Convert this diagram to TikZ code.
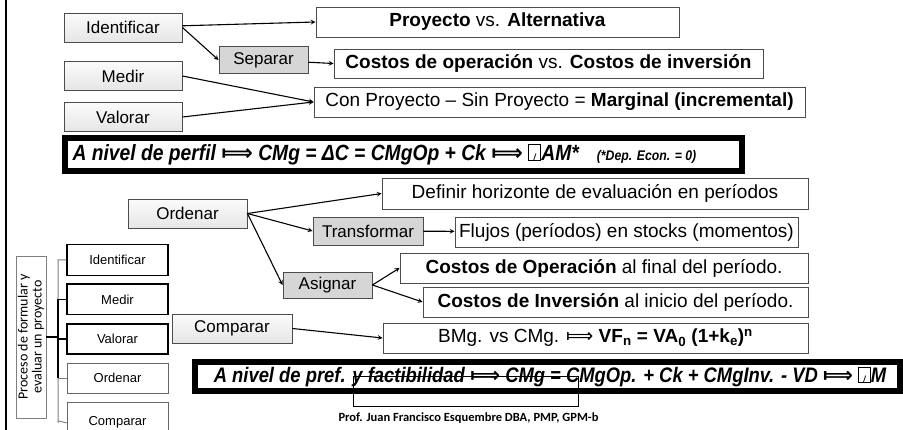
\documentclass[tikz,border=0pt]{standalone}
\usepackage{fontspec}
\setmainfont{Liberation Sans}
\newfontfamily\calibri{Carlito}
\newfontfamily\symfont{DejaVu Sans}
\newfontfamily\formfont[FakeStretch=0.876]{Liberation Sans}
\usetikzlibrary{arrows}
\usetikzlibrary{positioning}
\tikzset{basic/.style={draw=black!70,line width=0.9pt,inner sep=0pt}}
\tikzset{verb/.style={basic,top color=gray!3,bottom color=gray!20,minimum width=118pt,minimum height=29pt,font=\fontsize{17}{20}\selectfont}}
\tikzset{subverb/.style={basic,fill=gray!32,minimum height=27pt,font=\fontsize{17}{20}\selectfont}}
\tikzset{result/.style={basic,fill=white,minimum height=30pt,font=\fontsize{19}{22}\selectfont}}
\tikzset{phase/.style={draw,minimum width=101pt,minimum height=30.5pt,font=\fontsize{13}{15}\selectfont}}
\newcommand{\imp}{{\symfont ⟾}}
\newcommand{\tofu}{{\setlength{\fboxsep}{0pt}\setlength{\fboxrule}{1.1pt}\fbox{\makebox[0.5em]{\raisebox{0pt}[0.68em][0pt]{\fontsize{9}{9}\selectfont /}}}}}

\begin{document}
\begin{tikzpicture}[
		x = 1pt, y = -1pt, % pixel grid
		> = stealth, % arrow head style
		line width = 1.1pt,
		formbox/.style = {draw=black, line width=6pt, fill=white, inner sep=0pt},
		formtext/.style = {inner sep=0pt, anchor=west, font=\formfont\bfseries\itshape\fontsize{22}{24}\selectfont},
		node distance = 7.5pt
		]
		\useasboundingbox (0,0) rectangle (903,430);
		\clip (0,0) rectangle (903,430);
		
		% Top: identificar, medir, valorar
		\node[verb] (id) at (123,27.5) {Identificar};
		\node[verb] (med) at (123,76) {Medir};
		\node[verb] (val) at (123,117) {Valorar};
		\node[subverb, minimum width=89pt] (sep) at (263.5,60) {Separar};
		\node[result, minimum width=363pt] (proy) at (497.5,22) {\textbf{Proyecto} vs. \textbf{Alternativa}};
		\node[result, minimum width=429pt, minimum height=29pt] (costop) at (548.5,63.5) {\textbf{Costos de operación} vs. \textbf{Costos de inversión}};
		\node[result, minimum width=491pt] (conp) at (559.5,102) {Con Proyecto -- Sin Proyecto = \textbf{Marginal (incremental)}};
		
		\path[->] (id) edge (proy.west);
		\path[->] (id.east) edge (sep.west);
		\path[->] (sep) edge (costop.west);
		\path[->] (med.east) edge (conp.west);
		\path[->] (val.east) edge (conp.west);
		
		% Perfil
		\node[formbox, minimum width=677pt, minimum height=33pt] (perfil) at (403.5,154.5) {};
		\node[formtext] (perfiltxt) at ([xshift=10pt]perfil.west) {A nivel de perfil \imp{} CMg = ΔC = CMgOp + Ck \imp{} \tofu AM*\hspace{18pt}{\fontsize{14}{15}\selectfont (*Dep. Econ. = 0)}};
		
		% Middle: ordenar, comparar
		\node[verb, minimum width=119pt] (ord) at (187.5,213.5) {Ordenar};
		\node[result, minimum width=426pt, minimum height=31pt] (defi) at (595,193.5) {Definir horizonte de evaluación en períodos};
		\node[subverb, minimum width=110pt, minimum height=28pt] (trans) at (368,231) {Transformar};
		\node[result, minimum width=343pt] (flu) at (626.5,232) {Flujos (períodos) en stocks (momentos)};
		\node[subverb, minimum width=89pt, minimum height=26pt] (asig) at (327.5,285) {Asignar};
		\node[result, minimum width=408pt] (cop) at (604,268) {\textbf{Costos de Operación} al final del período.};
		\node[result, minimum width=385pt] (cinv) at (615.5,302) {\textbf{Costos de Inversión} al inicio del período.};
		\node[verb, minimum width=120pt] (comp) at (232,328.5) {Comparar};
		\node[result, minimum width=425pt] (bmg) at (595.5,338) {BMg. vs CMg. \imp{} \textbf{VF\textsubscript{n} = VA\textsubscript{0} (1+k\textsubscript{e})\textsuperscript{n}}};
		
		\path[->] (ord.east) edge (defi.west);
		\path[->] (ord.east) edge (trans.west);
		\path[->] (ord.east) edge (asig.west);
		\path[->] (trans) edge (flu);
		\path[->] (asig.east) edge (cop.west);
		\path[->] (asig.east) edge (cinv.west);
		\path[->] (comp.east) edge (bmg.west);
		
		% Factibilidad
		\node[formbox, line width=5.5pt, minimum width=705pt, minimum height=29pt] (factib) at (547.5,376.5) {};
		\node[formtext, font=\formfont\bfseries\itshape\fontsize{21}{24}\selectfont] (factibtxt) at ([xshift=21pt]factib.west) {A nivel de pref. y factibilidad \imp{} CMg = CMgOp. + Ck + CMgInv. - VD \imp{} \tofu M};
		\node[draw, line width=1pt, minimum width=225pt, minimum height=30pt] (blank) at (465.5,392) {};
		
		% Left: proceso
		\node[draw=gray, line width=0.8pt, rotate=90, minimum width=162pt, minimum height=30pt, inner sep=1pt, align=center, font=\calibri\fontsize{14}{14}\selectfont] (proc) at (31,337) {Proceso de formular y\\evaluar un proyecto};
		\node[phase, line width=1.4pt] (subid) at (117.5,260) {Identificar};
		\node[phase, line width=1.4pt, below=of subid] (submed) {Medir};
		\node[phase, line width=1.8pt, below=of submed] (subval) {Valorar};
		\node[phase, draw=gray!80!black, line width=0.8pt, below=of subval] (subord) {Ordenar};
		\node[phase, draw=gray!80!black, line width=0.8pt, minimum height=40pt, below=8.5pt of subord] (subcomp) {\raisebox{4pt}{Comparar}};
		
		\coordinate (spine) at (58,0);
		\draw[gray, line width=1pt] (subid.west) -- (subid.west -| spine) -- (subcomp.west -| spine) -- ++(0,-2) -- (subcomp.west);
		\draw[gray, line width=1pt] (subord.west) -- (subord.west -| spine);
		\draw[black, line width=1.2pt] (submed.west) -- (submed.west -| spine) -- (subord.west -| spine);
		\draw[black, line width=1.2pt] (subval.west) -- (subval.west -| spine);
		\draw[black, line width=1.2pt] (proc.south) -- (proc.south -| spine);
		
		\node[font=\calibri\bfseries\fontsize{12.5}{14}\selectfont] (prof) at (468.5,418) {Prof. Juan Francisco Esquembre DBA, PMP, GPM-b};
		
		% frame line
		\draw[line width=2.5pt] (6,0) -- (6,430);
\end{tikzpicture}
\end{document}
